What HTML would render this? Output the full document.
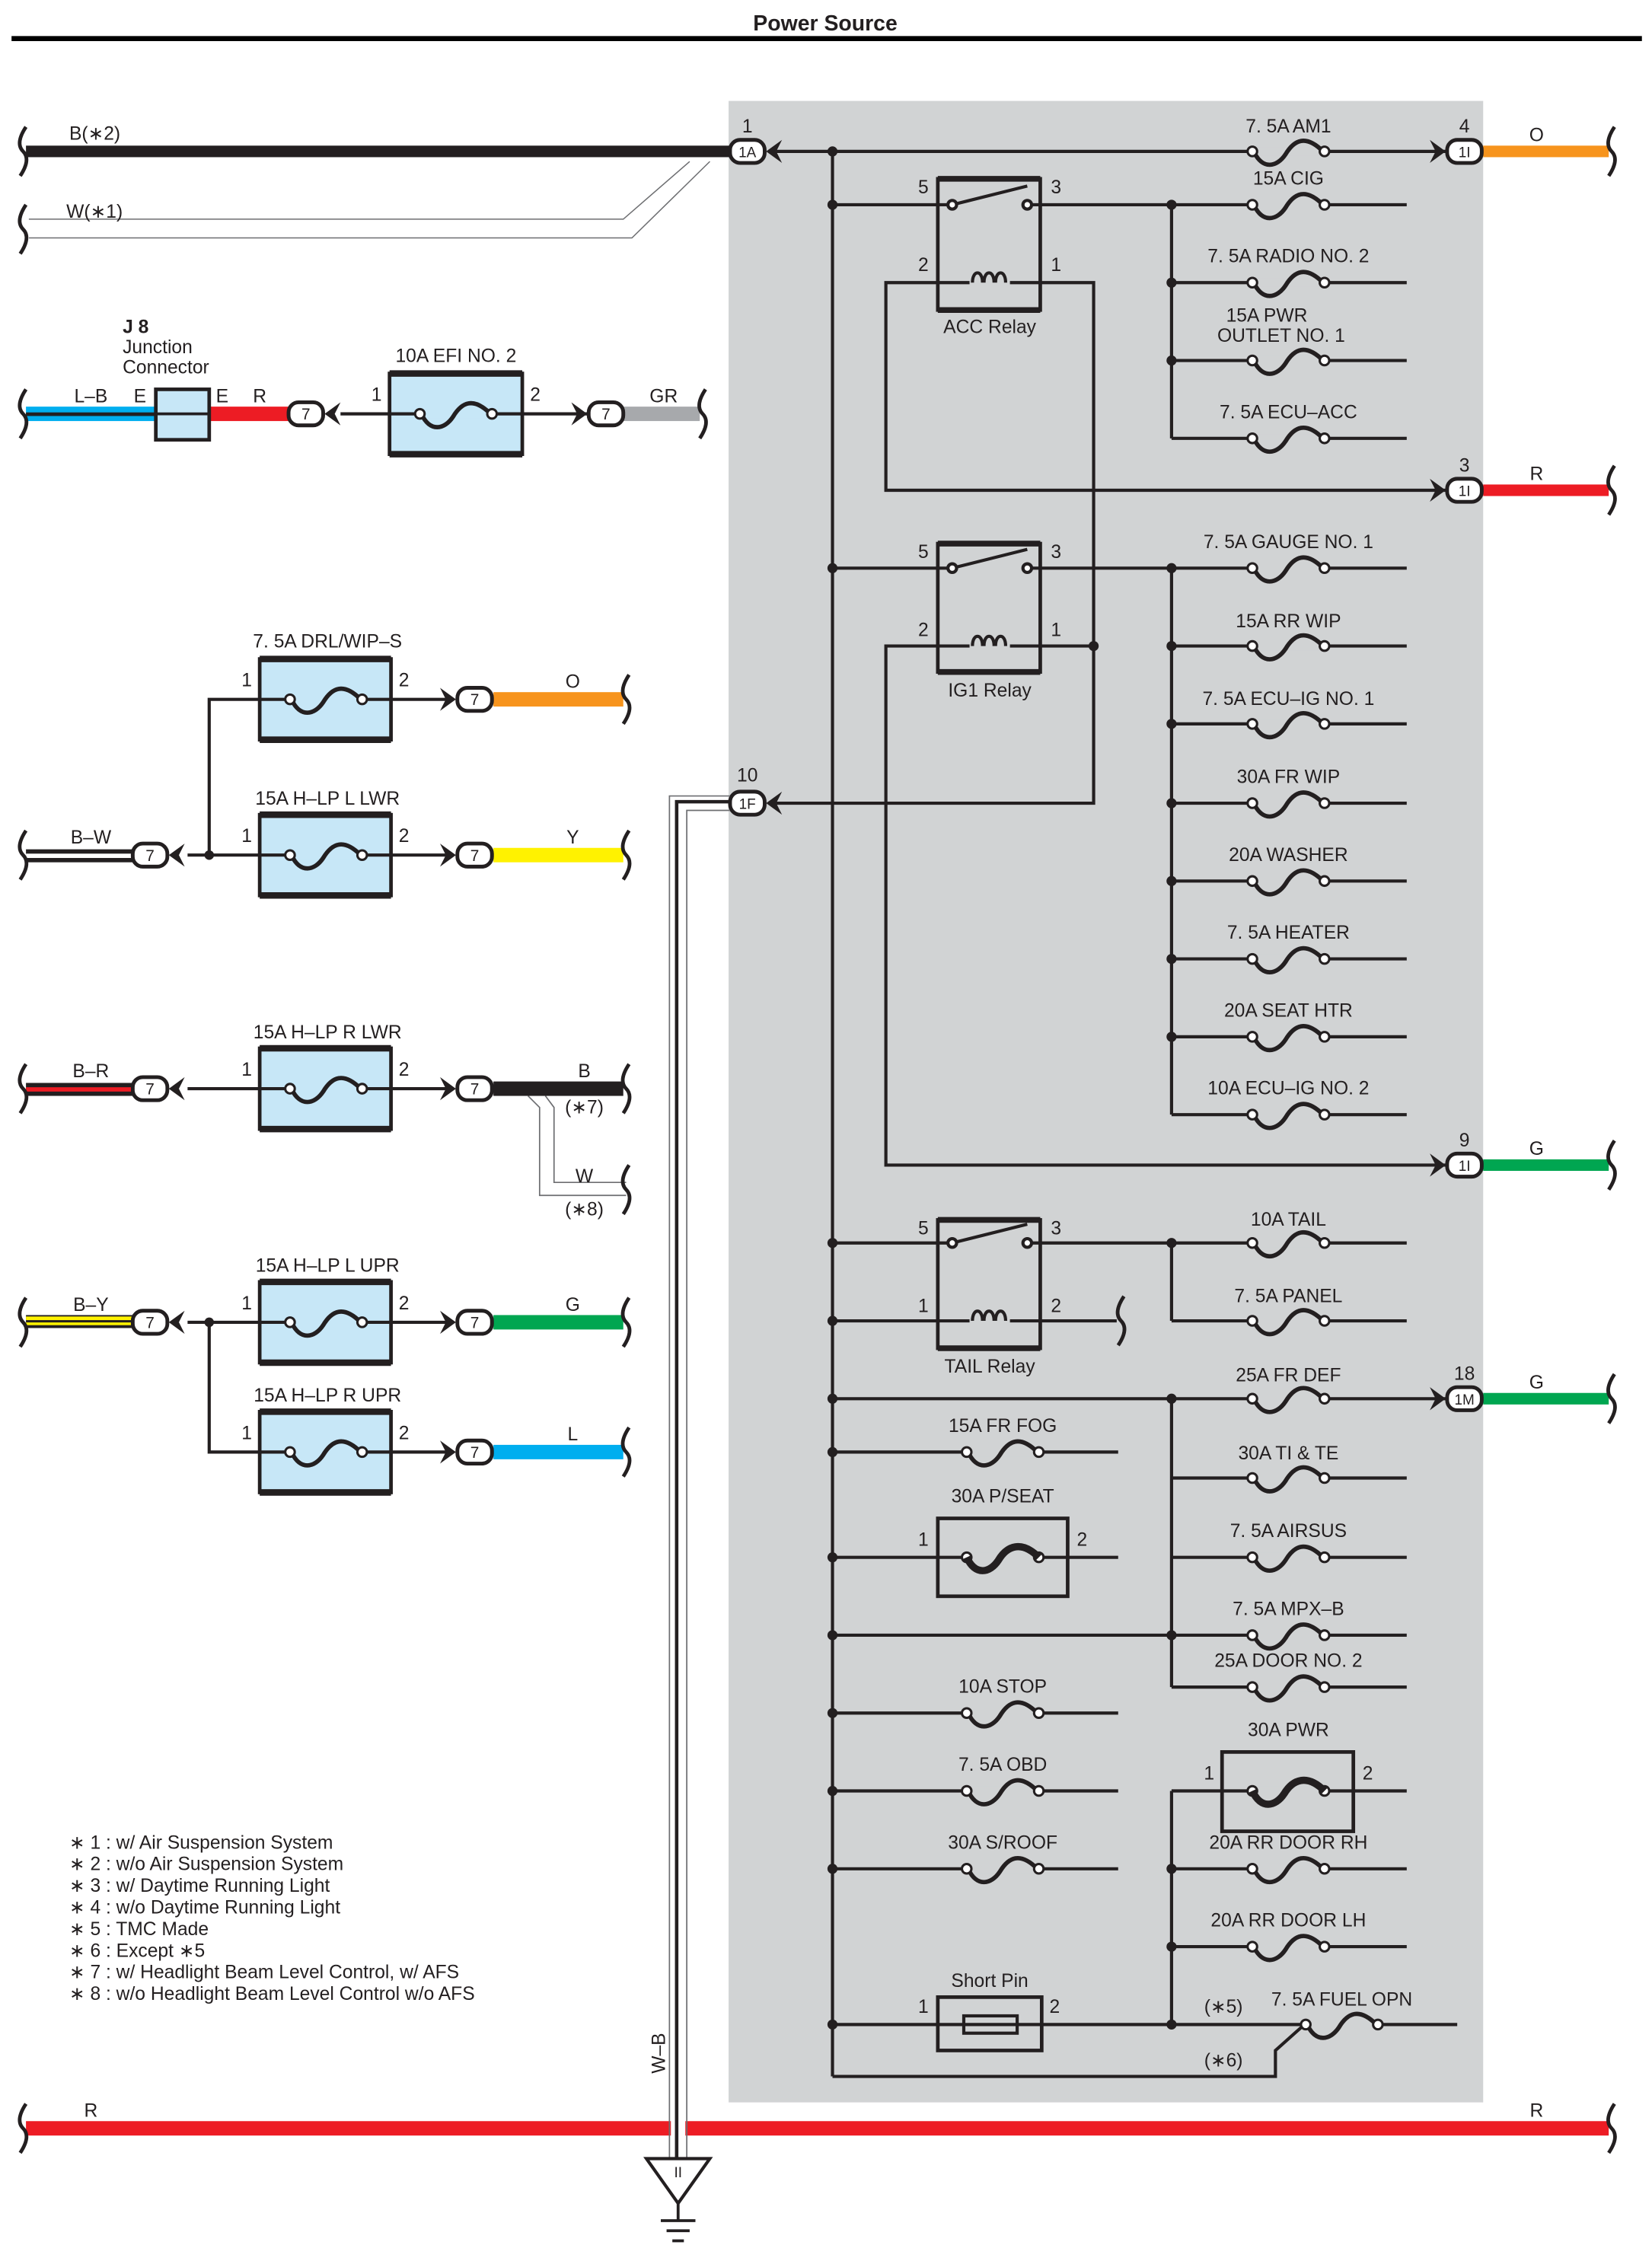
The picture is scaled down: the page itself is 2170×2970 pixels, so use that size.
<!DOCTYPE html>
<html><head><meta charset="utf-8"><style>
html,body{margin:0;padding:0;background:#fff}
svg{display:block}
text{font-family:"Liberation Sans",Arial,sans-serif;font-size:13px;fill:#231f20}
.c{text-anchor:middle}
</style></head><body>
<svg width="2170" height="2970" viewBox="0 0 1145 1568" preserveAspectRatio="none" xmlns="http://www.w3.org/2000/svg">
<defs>
<g id="fz">
<path d="M-24,0 C-18,13 -8,11 -2,2 C4,-8 12,-12 24,0" fill="none" stroke="#231f20" stroke-width="3"/>
<circle cx="-25" cy="0" r="3.3" fill="#fff" stroke="#231f20" stroke-width="1.6"/>
<circle cx="25" cy="0" r="3.3" fill="#fff" stroke="#231f20" stroke-width="1.6"/>
</g>
<g id="fg"><rect x="-23" y="-3" width="46" height="6" fill="#d1d3d4"/><use href="#fz"/></g>
<g id="fb"><rect x="-23" y="-3" width="46" height="6" fill="#c7e7f7"/><use href="#fz"/></g>
<path id="al" d="M0,0 L11,-8 L7,0 L11,8 Z" fill="#231f20"/>
<path id="ar" d="M0,0 L-11,-8 L-7,0 L-11,8 Z" fill="#231f20"/>
<path id="br" d="M2,-17 C-4,-8 -3,-3 0,0 C3,3 4,8 -2,17" fill="none" stroke="#231f20" stroke-width="2.5"/>
<g id="coil"><path d="M-12,0 C-12,-9 -5,-9 -5,0 M-4,0 C-4,-9 3,-9 3,0 M4,0 C4,-9 11,-9 11,0" fill="none" stroke="#231f20" stroke-width="2.2"/></g>
</defs>

<text x="572" y="21" class="c" style="font-weight:bold;font-size:15px">Power Source</text>
<rect x="8" y="25" width="1130" height="3.5" fill="#000"/>

<rect x="505" y="70" width="523" height="1388" fill="#d1d3d4"/>

<g stroke="#231f20" stroke-width="2.2" fill="none">
<line x1="577" y1="105" x2="577" y2="1440"/>
<line x1="538" y1="105" x2="1004" y2="105"/>
<line x1="577" y1="142" x2="657" y2="142"/>
<line x1="715" y1="142" x2="975" y2="142"/>
<line x1="812" y1="142" x2="812" y2="304"/>
<line x1="812" y1="196" x2="975" y2="196"/>
<line x1="812" y1="250" x2="975" y2="250"/>
<line x1="812" y1="304" x2="975" y2="304"/>
<polyline points="672,196 614,196 614,340 1002,340"/>
<polyline points="700,196 758,196 758,557 538,557"/>
<line x1="577" y1="394" x2="657" y2="394"/>
<line x1="715" y1="394" x2="975" y2="394"/>
<line x1="812" y1="394" x2="812" y2="773"/>
<line x1="812" y1="448" x2="975" y2="448"/>
<line x1="812" y1="502" x2="975" y2="502"/>
<line x1="812" y1="557" x2="975" y2="557"/>
<line x1="812" y1="611" x2="975" y2="611"/>
<line x1="812" y1="665" x2="975" y2="665"/>
<line x1="812" y1="719" x2="975" y2="719"/>
<line x1="812" y1="773" x2="975" y2="773"/>
<polyline points="672,448 614,448 614,808 1002,808"/>
<line x1="700" y1="448" x2="758" y2="448"/>
<line x1="577" y1="862" x2="657" y2="862"/>
<line x1="715" y1="862" x2="975" y2="862"/>
<line x1="812" y1="862" x2="812" y2="916"/>
<line x1="812" y1="916" x2="975" y2="916"/>
<line x1="577" y1="916" x2="672" y2="916"/>
<line x1="700" y1="916" x2="774" y2="916"/>
<line x1="577" y1="970" x2="1002" y2="970"/>
<line x1="812" y1="970" x2="812" y2="1170"/>
<line x1="812" y1="1025" x2="975" y2="1025"/>
<line x1="577" y1="1007" x2="775" y2="1007"/>
<line x1="577" y1="1080" x2="775" y2="1080"/>
<line x1="812" y1="1080" x2="975" y2="1080"/>
<line x1="577" y1="1134" x2="975" y2="1134"/>
<line x1="812" y1="1170" x2="975" y2="1170"/>
<line x1="577" y1="1188" x2="775" y2="1188"/>
<line x1="577" y1="1242" x2="775" y2="1242"/>
<line x1="577" y1="1296" x2="775" y2="1296"/>
<line x1="812" y1="1242" x2="975" y2="1242"/>
<line x1="812" y1="1242" x2="812" y2="1404"/>
<line x1="812" y1="1296" x2="975" y2="1296"/>
<line x1="812" y1="1350" x2="975" y2="1350"/>
<line x1="577" y1="1404" x2="1010" y2="1404"/>
<polyline points="577,1440 884,1440 884,1422 903,1405"/>
</g>

<g fill="none" stroke="#231f20" stroke-width="2.5">
<rect x="650" y="124" width="71" height="91"/>
<rect x="650" y="377" width="71" height="89"/>
<rect x="650" y="846" width="71" height="89"/>
<rect x="650" y="1053" width="90" height="54"/>
<rect x="847" y="1215" width="91" height="55"/>
<rect x="650" y="1385" width="72" height="37"/>
<rect x="668" y="1398" width="37" height="12" stroke-width="2.2"/>
</g>
<g stroke="#231f20" stroke-width="4">
<line x1="650" y1="124" x2="721" y2="124"/><line x1="650" y1="215" x2="721" y2="215"/>
<line x1="650" y1="377" x2="721" y2="377"/><line x1="650" y1="466" x2="721" y2="466"/>
<line x1="650" y1="846" x2="721" y2="846"/><line x1="650" y1="935" x2="721" y2="935"/>
</g>
<g stroke="#231f20" stroke-width="2.2" fill="#fff">
<line x1="660" y1="142" x2="712" y2="129"/><circle cx="660" cy="142" r="3"/><circle cx="712" cy="142" r="3"/>
<line x1="660" y1="394" x2="712" y2="381"/><circle cx="660" cy="394" r="3"/><circle cx="712" cy="394" r="3"/>
<line x1="660" y1="862" x2="712" y2="849"/><circle cx="660" cy="862" r="3"/><circle cx="712" cy="862" r="3"/>
</g>
<use href="#coil" x="686" y="196"/>
<use href="#coil" x="686" y="448"/>
<use href="#coil" x="686" y="916"/>

<g fill="#231f20">
<circle cx="577" cy="105" r="3.5"/><circle cx="577" cy="142" r="3.5"/><circle cx="812" cy="142" r="3.5"/>
<circle cx="812" cy="196" r="3.5"/><circle cx="812" cy="250" r="3.5"/>
<circle cx="577" cy="394" r="3.5"/><circle cx="812" cy="394" r="3.5"/><circle cx="758" cy="448" r="3.5"/>
<circle cx="812" cy="448" r="3.5"/><circle cx="812" cy="502" r="3.5"/><circle cx="812" cy="557" r="3.5"/>
<circle cx="812" cy="611" r="3.5"/><circle cx="812" cy="665" r="3.5"/><circle cx="812" cy="719" r="3.5"/>
<circle cx="577" cy="862" r="3.5"/><circle cx="812" cy="862" r="3.5"/><circle cx="577" cy="916" r="3.5"/>
<circle cx="577" cy="970" r="3.5"/><circle cx="812" cy="970" r="3.5"/><circle cx="577" cy="1007" r="3.5"/>
<circle cx="577" cy="1080" r="3.5"/><circle cx="577" cy="1134" r="3.5"/><circle cx="812" cy="1134" r="3.5"/>
<circle cx="577" cy="1188" r="3.5"/><circle cx="577" cy="1242" r="3.5"/><circle cx="577" cy="1296" r="3.5"/>
<circle cx="812" cy="1296" r="3.5"/><circle cx="812" cy="1350" r="3.5"/><circle cx="577" cy="1404" r="3.5"/><circle cx="812" cy="1404" r="3.5"/>
</g>

<use href="#fg" x="893" y="105"/><use href="#fg" x="893" y="142"/><use href="#fg" x="893" y="196"/>
<use href="#fg" x="893" y="250"/><use href="#fg" x="893" y="304"/><use href="#fg" x="893" y="394"/>
<use href="#fg" x="893" y="448"/><use href="#fg" x="893" y="502"/><use href="#fg" x="893" y="557"/>
<use href="#fg" x="893" y="611"/><use href="#fg" x="893" y="665"/><use href="#fg" x="893" y="719"/>
<use href="#fg" x="893" y="773"/><use href="#fg" x="893" y="862"/><use href="#fg" x="893" y="916"/>
<use href="#fg" x="893" y="970"/><use href="#fg" x="893" y="1025"/><use href="#fg" x="893" y="1080"/>
<use href="#fg" x="893" y="1134"/><use href="#fg" x="893" y="1170"/><use href="#fg" x="893" y="1242"/>
<use href="#fg" x="893" y="1296"/><use href="#fg" x="893" y="1350"/><use href="#fg" x="930" y="1404"/>
<use href="#fg" x="695" y="1007"/><use href="#fg" x="695" y="1080"/><use href="#fg" x="695" y="1188"/>
<use href="#fg" x="695" y="1242"/><use href="#fg" x="695" y="1296"/>

<g>
<text x="893" y="92" class="c">7. 5A AM1</text>
<text x="893" y="128" class="c">15A CIG</text>
<text x="893" y="182" class="c">7. 5A RADIO NO. 2</text>
<text x="878" y="223" class="c">15A PWR</text>
<text x="888" y="237" class="c">OUTLET NO. 1</text>
<text x="893" y="290" class="c">7. 5A ECU–ACC</text>
<text x="893" y="380" class="c">7. 5A GAUGE NO. 1</text>
<text x="893" y="435" class="c">15A RR WIP</text>
<text x="893" y="489" class="c">7. 5A ECU–IG NO. 1</text>
<text x="893" y="543" class="c">30A FR WIP</text>
<text x="893" y="597" class="c">20A WASHER</text>
<text x="893" y="651" class="c">7. 5A HEATER</text>
<text x="893" y="705" class="c">20A SEAT HTR</text>
<text x="893" y="759" class="c">10A ECU–IG NO. 2</text>
<text x="893" y="850" class="c">10A TAIL</text>
<text x="893" y="903" class="c">7. 5A PANEL</text>
<text x="893" y="958" class="c">25A FR DEF</text>
<text x="893" y="1012" class="c">30A TI &amp; TE</text>
<text x="893" y="1066" class="c">7. 5A AIRSUS</text>
<text x="893" y="1120" class="c">7. 5A MPX–B</text>
<text x="893" y="1156" class="c">25A DOOR NO. 2</text>
<text x="893" y="1204" class="c">30A PWR</text>
<text x="893" y="1282" class="c">20A RR DOOR RH</text>
<text x="893" y="1336" class="c">20A RR DOOR LH</text>
<text x="930" y="1391" class="c">7. 5A FUEL OPN</text>
<text x="848" y="1396" class="c">(∗5)</text>
<text x="848" y="1433" class="c">(∗6)</text>
<text x="695" y="993" class="c">15A FR FOG</text>
<text x="695" y="1042" class="c">30A P/SEAT</text>
<text x="695" y="1174" class="c">10A STOP</text>
<text x="695" y="1228" class="c">7. 5A OBD</text>
<text x="695" y="1282" class="c">30A S/ROOF</text>
<text x="686" y="1378" class="c">Short Pin</text>
<text x="686" y="231" class="c">ACC Relay</text>
<text x="686" y="483" class="c">IG1 Relay</text>
<text x="686" y="952" class="c">TAIL Relay</text>
</g>
<g>
<text x="640" y="134" class="c">5</text><text x="732" y="134" class="c">3</text>
<text x="640" y="188" class="c">2</text><text x="732" y="188" class="c">1</text>
<text x="640" y="387" class="c">5</text><text x="732" y="387" class="c">3</text>
<text x="640" y="441" class="c">2</text><text x="732" y="441" class="c">1</text>
<text x="640" y="856" class="c">5</text><text x="732" y="856" class="c">3</text>
<text x="640" y="910" class="c">1</text><text x="732" y="910" class="c">2</text>
<text x="640" y="1072" class="c">1</text><text x="750" y="1072" class="c">2</text>
<text x="838" y="1234" class="c">1</text><text x="948" y="1234" class="c">2</text>
<text x="640" y="1396" class="c">1</text><text x="731" y="1396" class="c">2</text>
<text x="518" y="92" class="c">1</text><text x="1015" y="92" class="c">4</text>
<text x="1015" y="327" class="c">3</text><text x="1015" y="795" class="c">9</text>
<text x="1015" y="957" class="c">18</text><text x="518" y="542" class="c">10</text>
</g>
<path d="M670,1080 C676,1093 686,1091 692,1082 C698,1072 708,1068 720,1080" fill="none" stroke="#231f20" stroke-width="5"/>
<path d="M868,1242 C874,1255 884,1253 890,1244 C896,1234 906,1230 918,1242" fill="none" stroke="#231f20" stroke-width="5"/>

<rect x="18" y="101" width="490" height="8" fill="#231f20"/>
<polyline points="20,152 432,152 478,112" fill="none" stroke="#6d6e71" stroke-width="0.8"/>
<polyline points="20,165 438,165 492,112" fill="none" stroke="#6d6e71" stroke-width="0.8"/>
<text x="48" y="97">B(∗2)</text>
<text x="46" y="151">W(∗1)</text>
<use href="#br" x="16" y="105"/><use href="#br" x="16" y="159"/>

<rect x="1028" y="101" width="87" height="8" fill="#f7941d"/>
<rect x="1028" y="336" width="87" height="8" fill="#ed1c24"/>
<rect x="1028" y="804" width="87" height="8" fill="#00a651"/>
<rect x="1028" y="966" width="87" height="8" fill="#00a651"/>
<text x="1065" y="98" class="c">O</text><text x="1065" y="333" class="c">R</text>
<text x="1065" y="801" class="c">G</text><text x="1065" y="963" class="c">G</text>
<use href="#br" x="1117" y="105"/><use href="#br" x="1117" y="340"/>
<use href="#br" x="1117" y="808"/><use href="#br" x="1117" y="970"/>
<use href="#br" x="777" y="916"/>

<g stroke="#231f20" stroke-width="2.6" fill="#fff">
<rect x="506" y="97" width="24" height="16" rx="7"/>
<rect x="1003" y="97" width="24" height="16" rx="7"/>
<rect x="1003" y="332" width="24" height="16" rx="7"/>
<rect x="1003" y="800" width="24" height="16" rx="7"/>
<rect x="1003" y="962" width="24" height="16" rx="7"/>
<rect x="506" y="549" width="24" height="16" rx="7"/>
</g>
<use href="#al" x="531" y="105"/><use href="#al" x="531" y="557"/>
<use href="#ar" x="1002" y="105"/><use href="#ar" x="1002" y="340"/><use href="#ar" x="1002" y="808"/><use href="#ar" x="1002" y="970"/>
<g>
<text x="518" y="109" class="c" style="font-size:10px">1A</text>
<text x="1015" y="109" class="c" style="font-size:10px">1I</text>
<text x="1015" y="344" class="c" style="font-size:10px">1I</text>
<text x="1015" y="812" class="c" style="font-size:10px">1I</text>
<text x="1015" y="974" class="c" style="font-size:10px">1M</text>
<text x="518" y="561" class="c" style="font-size:10px">1F</text>
</g>

<rect x="18" y="1471" width="1097" height="10" fill="#ed1c24"/>
<text x="63" y="1468" class="c">R</text><text x="1065" y="1468" class="c">R</text>
<use href="#br" x="16" y="1476"/><use href="#br" x="1117" y="1476"/>

<polyline points="506,552 464,552 464,1498" fill="none" stroke="#6d6e71" stroke-width="0.9"/>
<polyline points="506,562 476,562 476,1498" fill="none" stroke="#6d6e71" stroke-width="0.9"/>
<rect x="465" y="1466" width="10" height="20" fill="#fff"/>
<polyline points="506,556 469,556 469,1498" fill="none" stroke="#231f20" stroke-width="2.4"/>
<text transform="translate(461,1438) rotate(-90)">W–B</text>
<polygon points="448,1497 492,1497 470,1528" fill="#fff" stroke="#231f20" stroke-width="2.2"/>
<text x="470" y="1510" class="c" style="font-size:10px">II</text>
<g stroke="#231f20" stroke-width="2"><line x1="470" y1="1528" x2="470" y2="1540"/>
<line x1="458" y1="1540" x2="482" y2="1540"/><line x1="462" y1="1547" x2="478" y2="1547"/><line x1="466" y1="1554" x2="474" y2="1554"/></g>

<text x="85" y="231" style="font-weight:bold">J 8</text>
<text x="85" y="245">Junction</text>
<text x="85" y="259">Connector</text>
<rect x="18" y="282" width="90" height="10" fill="#00aeef"/>
<rect x="18" y="286" width="90" height="2.5" fill="#231f20"/>
<rect x="145" y="282" width="55" height="10" fill="#ed1c24"/>
<rect x="108" y="270" width="37" height="35" fill="#c7e7f7" stroke="#231f20" stroke-width="2.5"/>
<line x1="108" y1="287" x2="145" y2="287" stroke="#231f20" stroke-width="2"/>
<text x="63" y="279" class="c">L–B</text><text x="97" y="279" class="c">E</text>
<text x="154" y="279" class="c">E</text><text x="180" y="279" class="c">R</text>
<use href="#br" x="16" y="287"/>

<g stroke="#231f20" stroke-width="2.2" fill="none">
<line x1="236" y1="287" x2="408" y2="287"/>
<line x1="130" y1="593" x2="310" y2="593"/>
<polyline points="145,593 145,485 310,485"/>
<line x1="130" y1="755" x2="310" y2="755"/>
<line x1="130" y1="917" x2="310" y2="917"/>
<polyline points="145,917 145,1007 310,1007"/>
</g>
<g fill="#231f20"><circle cx="145" cy="593" r="3.3"/><circle cx="145" cy="917" r="3.3"/></g>

<g fill="#c7e7f7" stroke="#231f20" stroke-width="2.5">
<rect x="270" y="259" width="92" height="56"/>
<rect x="180" y="457" width="91" height="56"/>
<rect x="180" y="565" width="91" height="56"/>
<rect x="180" y="727" width="91" height="56"/>
<rect x="180" y="889" width="91" height="56"/>
<rect x="180" y="979" width="91" height="56"/>
</g>
<g stroke="#231f20" stroke-width="4.5">
<line x1="270" y1="259" x2="362" y2="259"/><line x1="270" y1="315" x2="362" y2="315"/>
<line x1="180" y1="457" x2="271" y2="457"/><line x1="180" y1="513" x2="271" y2="513"/>
<line x1="180" y1="565" x2="271" y2="565"/><line x1="180" y1="621" x2="271" y2="621"/>
<line x1="180" y1="727" x2="271" y2="727"/><line x1="180" y1="783" x2="271" y2="783"/>
<line x1="180" y1="889" x2="271" y2="889"/><line x1="180" y1="945" x2="271" y2="945"/>
<line x1="180" y1="979" x2="271" y2="979"/><line x1="180" y1="1035" x2="271" y2="1035"/>
</g>
<g stroke="#231f20" stroke-width="2.2">
<line x1="270" y1="287" x2="362" y2="287"/>
<line x1="180" y1="485" x2="271" y2="485"/><line x1="180" y1="593" x2="271" y2="593"/>
<line x1="180" y1="755" x2="271" y2="755"/><line x1="180" y1="917" x2="271" y2="917"/>
<line x1="180" y1="1007" x2="271" y2="1007"/>
</g>
<use href="#fb" x="316" y="287"/><use href="#fb" x="226" y="485"/><use href="#fb" x="226" y="593"/>
<use href="#fb" x="226" y="755"/><use href="#fb" x="226" y="917"/><use href="#fb" x="226" y="1007"/>

<text x="316" y="251" class="c">10A EFI NO. 2</text>
<text x="227" y="449" class="c">7. 5A DRL/WIP–S</text>
<text x="227" y="558" class="c">15A H–LP L LWR</text>
<text x="227" y="720" class="c">15A H–LP R LWR</text>
<text x="227" y="882" class="c">15A H–LP L UPR</text>
<text x="227" y="972" class="c">15A H–LP R UPR</text>
<text x="261" y="278" class="c">1</text><text x="371" y="278" class="c">2</text>
<text x="171" y="476" class="c">1</text><text x="280" y="476" class="c">2</text>
<text x="171" y="584" class="c">1</text><text x="280" y="584" class="c">2</text>
<text x="171" y="746" class="c">1</text><text x="280" y="746" class="c">2</text>
<text x="171" y="908" class="c">1</text><text x="280" y="908" class="c">2</text>
<text x="171" y="998" class="c">1</text><text x="280" y="998" class="c">2</text>

<rect x="18" y="589" width="75" height="9" fill="#231f20"/><rect x="18" y="592" width="75" height="3" fill="#fff"/>
<rect x="18" y="751" width="75" height="9" fill="#231f20"/><rect x="18" y="754" width="75" height="3" fill="#ed1c24"/>
<rect x="18" y="912" width="75" height="9" fill="#231f20"/><rect x="18" y="913" width="75" height="6" fill="#fff200"/><rect x="18" y="915.5" width="75" height="1.6" fill="#231f20"/>
<text x="63" y="585" class="c">B–W</text><text x="63" y="747" class="c">B–R</text><text x="63" y="909" class="c">B–Y</text>
<use href="#br" x="16" y="593"/><use href="#br" x="16" y="755"/><use href="#br" x="16" y="917"/>

<rect x="432" y="282" width="53" height="10" fill="#a7a9ac"/>
<rect x="342" y="480" width="90" height="10" fill="#f7941d"/>
<rect x="342" y="588" width="90" height="10" fill="#fff200"/>
<polyline points="366,760 374,768 374,829 434,829" fill="none" stroke="#6d6e71" stroke-width="0.9"/>
<polyline points="378,760 384,768 384,820 434,820" fill="none" stroke="#6d6e71" stroke-width="0.9"/>
<rect x="342" y="750" width="90" height="10" fill="#231f20"/>
<rect x="342" y="912" width="90" height="10" fill="#00a651"/>
<rect x="342" y="1002" width="90" height="10" fill="#00aeef"/>
<text x="460" y="279" class="c">GR</text>
<text x="397" y="477" class="c">O</text><text x="397" y="585" class="c">Y</text>
<text x="405" y="747" class="c">B</text><text x="405" y="772" class="c">(∗7)</text>
<text x="405" y="820" class="c">W</text><text x="405" y="843" class="c">(∗8)</text>
<text x="397" y="909" class="c">G</text><text x="397" y="999" class="c">L</text>
<use href="#br" x="487" y="287"/><use href="#br" x="434" y="485"/><use href="#br" x="434" y="593"/>
<use href="#br" x="434" y="755"/><use href="#br" x="434" y="825"/><use href="#br" x="434" y="917"/><use href="#br" x="434" y="1007"/>

<g stroke="#231f20" stroke-width="2.6" fill="#fff">
<rect x="200" y="279" width="24" height="16" rx="7"/>
<rect x="408" y="279" width="24" height="16" rx="7"/>
<rect x="92" y="585" width="24" height="16" rx="7"/>
<rect x="92" y="747" width="24" height="16" rx="7"/>
<rect x="92" y="909" width="24" height="16" rx="7"/>
<rect x="317" y="477" width="24" height="16" rx="7"/>
<rect x="317" y="585" width="24" height="16" rx="7"/>
<rect x="317" y="747" width="24" height="16" rx="7"/>
<rect x="317" y="909" width="24" height="16" rx="7"/>
<rect x="317" y="999" width="24" height="16" rx="7"/>
</g>
<use href="#al" x="225" y="287"/><use href="#ar" x="407" y="287"/>
<use href="#al" x="117" y="593"/><use href="#al" x="117" y="755"/><use href="#al" x="117" y="917"/>
<use href="#ar" x="316" y="485"/><use href="#ar" x="316" y="593"/><use href="#ar" x="316" y="755"/>
<use href="#ar" x="316" y="917"/><use href="#ar" x="316" y="1007"/>
<g>
<text x="212" y="291" class="c" style="font-size:11px">7</text><text x="420" y="291" class="c" style="font-size:11px">7</text>
<text x="104" y="597" class="c" style="font-size:11px">7</text><text x="104" y="759" class="c" style="font-size:11px">7</text>
<text x="104" y="921" class="c" style="font-size:11px">7</text>
<text x="329" y="489" class="c" style="font-size:11px">7</text><text x="329" y="597" class="c" style="font-size:11px">7</text>
<text x="329" y="759" class="c" style="font-size:11px">7</text><text x="329" y="921" class="c" style="font-size:11px">7</text>
<text x="329" y="1011" class="c" style="font-size:11px">7</text>
</g>

<g style="font-size:12.5px">
<text x="48" y="1282">∗ 1 : w/ Air Suspension System</text>
<text x="48" y="1297">∗ 2 : w/o Air Suspension System</text>
<text x="48" y="1312">∗ 3 : w/ Daytime Running Light</text>
<text x="48" y="1327">∗ 4 : w/o Daytime Running Light</text>
<text x="48" y="1342">∗ 5 : TMC Made</text>
<text x="48" y="1357">∗ 6 : Except ∗5</text>
<text x="48" y="1372">∗ 7 : w/ Headlight Beam Level Control,  w/ AFS</text>
<text x="48" y="1387">∗ 8 : w/o Headlight Beam Level Control w/o AFS</text>
</g>
</svg>
</body></html>
